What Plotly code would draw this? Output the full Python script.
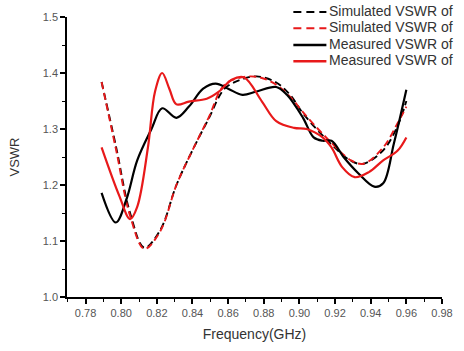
import plotly.graph_objects as go

# Simulated (black dashed)
sim_b_x = [0.789, 0.797, 0.805, 0.813, 0.822, 0.831, 0.840, 0.849, 0.858, 0.867, 0.876, 0.887, 0.895, 0.902, 0.915, 0.929, 0.936, 0.947, 0.955, 0.960]
sim_b_y = [1.384, 1.270, 1.150, 1.088, 1.120, 1.200, 1.262, 1.318, 1.372, 1.388, 1.394, 1.383, 1.360, 1.328, 1.282, 1.243, 1.238, 1.262, 1.305, 1.350]
# Simulated (red dashed)
sim_r_x = [0.789, 0.797, 0.805, 0.813, 0.822, 0.831, 0.840, 0.849, 0.858, 0.869, 0.878, 0.887, 0.895, 0.902, 0.915, 0.929, 0.936, 0.947, 0.955, 0.960]
sim_r_y = [1.384, 1.265, 1.145, 1.086, 1.118, 1.200, 1.262, 1.320, 1.379, 1.393, 1.392, 1.379, 1.357, 1.330, 1.285, 1.244, 1.238, 1.267, 1.310, 1.340]
# Measured (black solid)
mea_b_x = [0.789, 0.797, 0.803, 0.809, 0.817, 0.823, 0.831, 0.838, 0.846, 0.853, 0.860, 0.868, 0.876, 0.887, 0.893, 0.902, 0.908, 0.913, 0.918, 0.925, 0.933, 0.942, 0.947, 0.953, 0.960]
mea_b_y = [1.186, 1.133, 1.175, 1.244, 1.300, 1.337, 1.320, 1.340, 1.372, 1.381, 1.372, 1.361, 1.367, 1.375, 1.361, 1.320, 1.285, 1.279, 1.279, 1.249, 1.221, 1.197, 1.203, 1.274, 1.370]
# Measured (red solid)
mea_r_x = [0.789, 0.799, 0.805, 0.809, 0.815, 0.819, 0.823, 0.827, 0.831, 0.838, 0.848, 0.855, 0.862, 0.869, 0.879, 0.887, 0.897, 0.904, 0.913, 0.918, 0.924, 0.931, 0.939, 0.947, 0.955, 0.960]
mea_r_y = [1.267, 1.180, 1.139, 1.161, 1.267, 1.367, 1.400, 1.372, 1.344, 1.349, 1.354, 1.367, 1.388, 1.392, 1.349, 1.314, 1.302, 1.300, 1.285, 1.267, 1.232, 1.214, 1.223, 1.244, 1.261, 1.285]

x_ticks = [0.78, 0.80, 0.82, 0.84, 0.86, 0.88, 0.90, 0.92, 0.94, 0.96, 0.98]
y_ticks = [1.0, 1.1, 1.2, 1.3, 1.4, 1.5]

series_names = ["Simulated VSWR of", "Simulated VSWR of", "Measured VSWR of", "Measured VSWR of"]
series_colors = ["black", "#e8191a", "black", "#e8191a"]
series_dash = ["dash", "dash", "solid", "solid"]

FONT = "Liberation Sans, Arial"
DASH_PLOT = "7px,4px"
DASH_LEG = "8px,5px"

fig = go.Figure()
data = [(sim_b_x, sim_b_y), (sim_r_x, sim_r_y), (mea_b_x, mea_b_y), (mea_r_x, mea_r_y)]
for (xs, ys), name, col, ds in zip(data, series_names, series_colors, series_dash):
    fig.add_trace(go.Scatter(
        x=xs, y=ys, mode="lines", name=name, showlegend=False,
        line=dict(color=col, width=1.9 if ds == "dash" else 2.2,
                  dash=DASH_PLOT if ds == "dash" else "solid",
                  shape="spline", smoothing=1.0)))

axis_common = dict(showgrid=False, zeroline=False, showline=True, linecolor="black", linewidth=1.5,
                   ticks="outside", ticklen=5, tickwidth=1.5, tickcolor="black",
                   tickfont=dict(family=FONT, size=11, color="#555555"))

fig.update_xaxes(range=[0.7696, 0.98], tickvals=x_ticks, ticktext=[f"{v:.2f}" for v in x_ticks],
                 title=dict(text="Frequency(GHz)", font=dict(family=FONT, size=14, color="#333333"), standoff=11),
                 minor=dict(dtick=0.01, tick0=0.77, ticks="outside", ticklen=3, tickwidth=1.2, tickcolor="black"),
                 **axis_common)
fig.update_yaxes(range=[1.0, 1.5], tickvals=y_ticks, ticktext=[f"{v:.1f}" for v in y_ticks],
                 title=dict(text="VSWR", font=dict(family=FONT, size=13, color="#333333"), standoff=20),
                 minor=dict(dtick=0.05, tick0=1.0, ticks="outside", ticklen=3, tickwidth=1.2, tickcolor="black"),
                 **axis_common)

# Manual legend (paper coordinates), matching the reference's tight row spacing
W, H, L, T = 464, 351, 67, 14
pw, ph = W - L - 11, H - T - 52
def px(xp):
    return (xp - L) / pw
def py(yp):
    return (H - 52 - yp) / ph

leg_rows = [8, 24.5, 41.5, 58]
for yrow, name, col, ds in zip(leg_rows, series_names, series_colors, series_dash):
    fig.add_shape(type="line", xref="paper", yref="paper",
                  x0=px(300), x1=px(334), y0=py(yrow + 1), y1=py(yrow + 1),
                  line=dict(color=col, width=2 if ds == "dash" else 2.4,
                            dash=DASH_LEG if ds == "dash" else "solid"))
    fig.add_annotation(xref="paper", yref="paper", x=px(335), y=py(yrow),
                       xanchor="left", yanchor="middle", text=name, showarrow=False,
                       font=dict(family=FONT, size=14, color="#333333"))

fig.update_layout(
    width=W, height=H,
    margin=dict(l=L, r=11, t=T, b=52),
    plot_bgcolor="white", paper_bgcolor="white",
    showlegend=False,
)

fig.write_html("out.html")
